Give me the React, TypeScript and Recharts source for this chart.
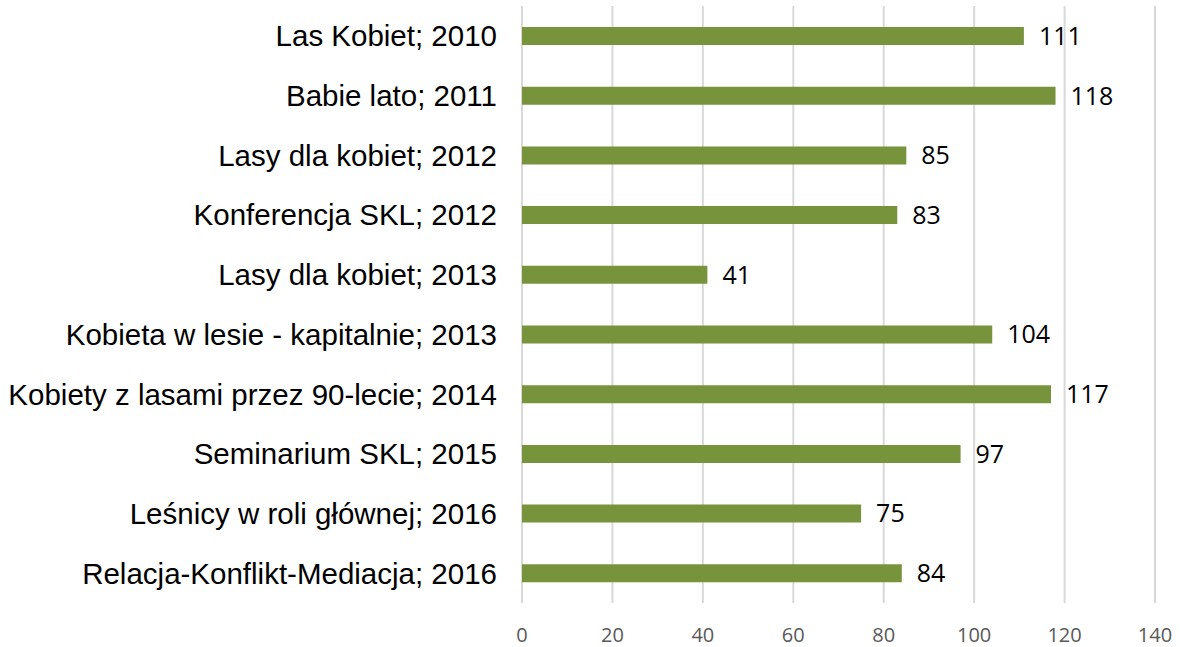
import { Bar, BarChart, CartesianGrid, LabelList, XAxis, YAxis } from "recharts";

const categories = [
  "Las Kobiet; 2010",
  "Babie lato; 2011",
  "Lasy dla kobiet; 2012",
  "Konferencja SKL; 2012",
  "Lasy dla kobiet; 2013",
  "Kobieta w lesie - kapitalnie; 2013",
  "Kobiety z lasami przez 90-lecie; 2014",
  "Seminarium SKL; 2015",
  "Leśnicy w roli głównej; 2016",
  "Relacja-Konflikt-Mediacja; 2016",
];
const values = [111, 118, 85, 83, 41, 104, 117, 97, 75, 84];
const xTicks = [0, 20, 40, 60, 80, 100, 120, 140];

const data = categories.map((name, i) => ({ name, value: values[i] }));

export default function App() {
  return (
    <div style={{ position: "absolute", left: 0, top: 0, background: "#fff" }}>
      <BarChart
        width={1180}
        height={647}
        data={data}
        layout="vertical"
        margin={{ top: 6, right: 25, left: 0, bottom: 0 }}
        barCategoryGap={0}
      >
        <CartesianGrid
          horizontal={false}
          stroke="#d9d9d9"
          strokeWidth={2}
        />
        <XAxis
          type="number"
          domain={[0, 140]}
          ticks={xTicks}
          height={44}
          axisLine={false}
          tickLine={false}
          tickSize={0}
          tickMargin={25}
          interval={0}
          tick={{ fontSize: 20, fill: "#595959", fontFamily: "Open Sans" }}
        />
        <YAxis
          type="category"
          dataKey="name"
          width={522}
          axisLine={false}
          tickLine={false}
          tickSize={0}
          tickMargin={25}
          interval={0}
          tick={{ fontSize: 29.5, fill: "#000", fontFamily: "Liberation Sans, Arial" }}
        />
        <Bar dataKey="value" fill="#77933c" barSize={18} isAnimationActive={false}>
          <LabelList
            dataKey="value"
            position="right"
            offset={15}
            style={{ fontSize: 25, fill: "#000", fontFamily: "Open Sans" }}
          />
        </Bar>
      </BarChart>
    </div>
  );
}
